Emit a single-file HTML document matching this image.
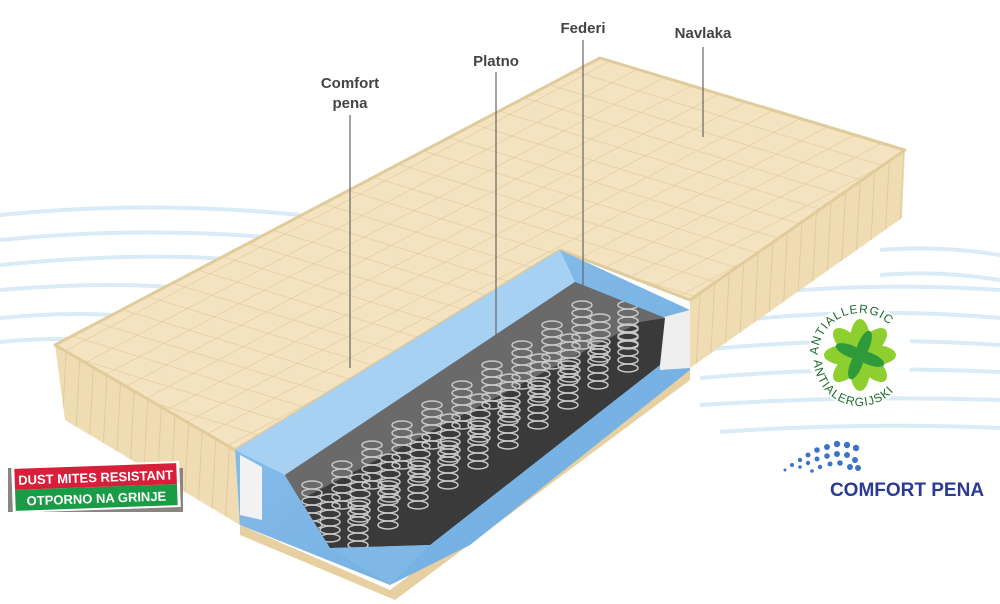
<!DOCTYPE html>
<html><head><meta charset="utf-8"><style>
html,body{margin:0;padding:0;background:#fff;}
svg{display:block;font-family:"Liberation Sans",sans-serif;}
</style></head><body>
<svg width="1000" height="604" viewBox="0 0 1000 604">
<defs>
<pattern id="p1" width="20" height="20" patternUnits="userSpaceOnUse" patternTransform="rotate(-28)">
<line x1="0" y1="0" x2="20" y2="0" stroke="#e0c99b" stroke-width="1.2"/></pattern>
<pattern id="p2" width="20" height="20" patternUnits="userSpaceOnUse" patternTransform="rotate(17)">
<line x1="0" y1="0" x2="20" y2="0" stroke="#e0c99b" stroke-width="1.2"/></pattern>
<pattern id="pl" width="14" height="14" patternUnits="userSpaceOnUse" patternTransform="rotate(3)">
<line x1="0" y1="0" x2="0" y2="14" stroke="#dcc597" stroke-width="1.5"/></pattern>
<clipPath id="top"><polygon points="55,345 600,58 905,150 690,300 560,250 235,450"/></clipPath>
<clipPath id="cav"><polygon points="285,475 575,282 665,318 660,365 430,545 330,548"/></clipPath>
<linearGradient id="bl" x1="0" y1="0" x2="1" y2="1"><stop offset="0" stop-color="#8fc3ec"/><stop offset="1" stop-color="#6aa9e0"/></linearGradient>
<g id="c" fill="none" stroke="#c8c8c8" stroke-width="1.5"><ellipse cx="0" cy="0" rx="10" ry="4"/><ellipse cx="0" cy="8" rx="10" ry="4"/><ellipse cx="0" cy="16" rx="10" ry="4"/><ellipse cx="0" cy="24" rx="10" ry="4"/><ellipse cx="0" cy="32" rx="10" ry="4"/><ellipse cx="0" cy="40" rx="10" ry="4"/></g>
</defs>
<g fill="none" stroke="#d8ebf7" stroke-width="4">
<path d="M0 215 Q150 200 300 215"/><path d="M0 240 Q150 225 300 240"/><path d="M0 265 Q150 250 260 262"/><path d="M0 290 Q120 280 200 290"/><path d="M0 318 Q80 310 150 318"/>
<path d="M0 342 Q60 336 100 342"/>
<path d="M700 300 Q850 280 1000 290"/><path d="M700 325 Q850 305 1000 318"/><path d="M700 350 Q850 335 1000 345"/><path d="M700 378 Q850 365 1000 372"/><path d="M700 405 Q850 395 1000 400"/><path d="M720 432 Q860 422 1000 428"/>
<path d="M880 250 Q940 245 1000 255"/><path d="M880 275 Q940 270 1000 280"/>
</g>
<polygon points="55,345 235,450 240,525 65,420" fill="#efdcb3"/>
<polygon points="55,345 235,450 240,525 65,420" fill="url(#pl)"/>
<polygon points="905,150 690,300 690,368 902,218" fill="#efdcb3"/>
<polygon points="905,150 690,300 690,368 902,218" fill="url(#pl)"/>
<polygon points="55,345 600,58 905,150 690,300 560,250 235,450" fill="#f4e3c1" stroke="#e2cb9b" stroke-width="3" stroke-linejoin="round"/>
<g clip-path="url(#top)"><rect x="0" y="0" width="1000" height="604" fill="url(#p1)"/><rect x="0" y="0" width="1000" height="604" fill="url(#p2)"/></g>
<polygon points="240,525 390,590 690,368 690,380 395,600 240,535" fill="#e6cfa0"/>
<polygon points="235,450 560,250 690,310 690,370 470,545 390,585 240,525" fill="url(#bl)"/>
<polygon points="235,450 285,475 575,282 560,250" fill="#a7d1f2"/>
<polygon points="660,318 690,310 690,368 660,370" fill="#eeeeee"/>
<polygon points="240,455 262,467 262,520 240,515" fill="#f2f2f2"/>
<polygon points="285,475 575,282 665,318 660,365 430,545 330,548" fill="#3a3a3a"/>
<polygon points="285,475 575,282 665,318 640,322 300,500" fill="#6a6a6a"/>
<g clip-path="url(#cav)">
<use href="#c" x="330" y="498"/><use href="#c" x="360" y="478"/><use href="#c" x="390" y="458"/><use href="#c" x="420" y="438"/><use href="#c" x="450" y="418"/><use href="#c" x="480" y="398"/><use href="#c" x="510" y="378"/><use href="#c" x="540" y="358"/><use href="#c" x="570" y="338"/><use href="#c" x="600" y="318"/><use href="#c" x="628" y="305"/>
<use href="#c" x="358" y="505"/><use href="#c" x="388" y="485"/><use href="#c" x="418" y="465"/><use href="#c" x="448" y="445"/><use href="#c" x="478" y="425"/><use href="#c" x="508" y="405"/><use href="#c" x="538" y="385"/><use href="#c" x="568" y="365"/><use href="#c" x="598" y="345"/><use href="#c" x="628" y="328"/>
<use href="#c" x="312" y="485"/><use href="#c" x="342" y="465"/><use href="#c" x="372" y="445"/><use href="#c" x="402" y="425"/><use href="#c" x="432" y="405"/><use href="#c" x="462" y="385"/><use href="#c" x="492" y="365"/><use href="#c" x="522" y="345"/><use href="#c" x="552" y="325"/><use href="#c" x="582" y="305"/>
</g>
<polygon points="330,548 430,545 390,585" fill="#7fb8e6"/>
<g stroke="#666" stroke-width="1.2">
<line x1="350" y1="115" x2="350" y2="368"/><line x1="496" y1="72" x2="496" y2="342"/><line x1="583" y1="40" x2="583" y2="290"/><line x1="703" y1="47" x2="703" y2="137"/>
</g>
<g font-size="15" font-weight="bold" fill="#444" text-anchor="middle">
<text x="350" y="88">Comfort</text><text x="350" y="108">pena</text>
<text x="496" y="66">Platno</text><text x="583" y="33">Federi</text><text x="703" y="38">Navlaka</text>
</g>
<rect x="8" y="468" width="175" height="44" fill="#8a8483"/>
<rect x="12" y="464" width="168" height="46" fill="#fff" transform="rotate(-2 96 487)"/>
<g transform="rotate(-2 96 487)">
<rect x="15" y="466" width="162" height="21" fill="#d71f3a"/>
<rect x="15" y="487" width="162" height="21" fill="#1a9b45"/>
<text x="96" y="482" font-size="13" font-weight="bold" fill="#fff" text-anchor="middle">DUST MITES RESISTANT</text>
<text x="96" y="503" font-size="13" font-weight="bold" fill="#fff" text-anchor="middle">OTPORNO NA GRINJE</text>
</g>
<circle cx="860" cy="355" r="52" fill="#fff" opacity="0.9"/>
<g transform="translate(860,355)">
<g fill="#8dcf2e"><ellipse rx="10" ry="22" transform="rotate(0) translate(0,-14)"/><ellipse rx="10" ry="22" transform="rotate(45) translate(0,-14)"/><ellipse rx="10" ry="22" transform="rotate(90) translate(0,-14)"/><ellipse rx="10" ry="22" transform="rotate(135) translate(0,-14)"/><ellipse rx="10" ry="22" transform="rotate(180) translate(0,-14)"/><ellipse rx="10" ry="22" transform="rotate(225) translate(0,-14)"/><ellipse rx="10" ry="22" transform="rotate(270) translate(0,-14)"/><ellipse rx="10" ry="22" transform="rotate(315) translate(0,-14)"/></g>
<g fill="#2f9a3a"><ellipse rx="6" ry="16" transform="rotate(22) translate(0,-10)"/><ellipse rx="6" ry="16" transform="rotate(112) translate(0,-10)"/><ellipse rx="6" ry="16" transform="rotate(202) translate(0,-10)"/><ellipse rx="6" ry="16" transform="rotate(292) translate(0,-10)"/></g>
</g>
<path id="arcT" d="M818,355 A42,42 0 0 1 902,355" fill="none"/>
<path id="arcB" d="M814,360 A46,46 0 0 0 906,360" fill="none"/>
<text font-size="12" fill="#1f6b2a" letter-spacing="1"><textPath href="#arcT">ANTIALLERGIC</textPath></text>
<text font-size="12" fill="#1f6b2a" letter-spacing="1"><textPath href="#arcB">ANTIALERGIJSKI</textPath></text>
<g fill="#3d72c9">
<circle cx="785" cy="470" r="1.5"/><circle cx="792" cy="465" r="2"/><circle cx="800" cy="460" r="2.2"/><circle cx="808" cy="455" r="2.5"/><circle cx="817" cy="450" r="2.8"/><circle cx="827" cy="447" r="3"/><circle cx="837" cy="444" r="3.2"/><circle cx="847" cy="445" r="3.2"/><circle cx="856" cy="448" r="3.2"/>
<circle cx="800" cy="467" r="1.8"/><circle cx="808" cy="463" r="2.2"/><circle cx="817" cy="459" r="2.5"/><circle cx="827" cy="456" r="2.8"/><circle cx="837" cy="454" r="3"/><circle cx="847" cy="455" r="3"/><circle cx="855" cy="460" r="3"/>
<circle cx="812" cy="471" r="1.8"/><circle cx="820" cy="467" r="2.2"/><circle cx="830" cy="464" r="2.5"/><circle cx="840" cy="463" r="2.8"/><circle cx="850" cy="467" r="3"/><circle cx="858" cy="468" r="3"/>
</g>
<text x="907" y="496" font-size="19" font-weight="bold" fill="#2b3b8f" text-anchor="middle">COMFORT PENA</text>
</svg>
</body></html>
